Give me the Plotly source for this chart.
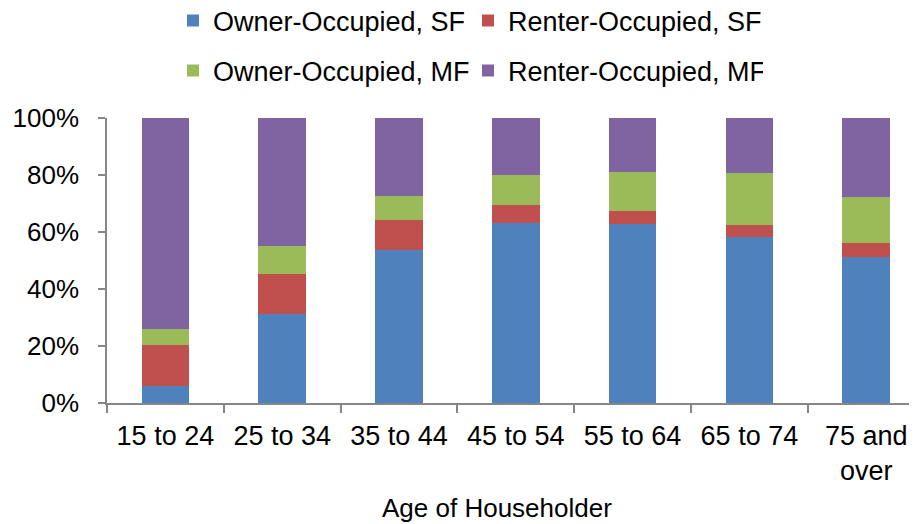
import plotly.graph_objects as go

categories = ["15 to 24", "25 to 34", "35 to 44", "45 to 54", "55 to 64", "65 to 74", "75 and<br>over"]
owner_sf = [6.0, 31.3, 53.8, 63.2, 62.7, 58.2, 51.1]
renter_sf = [14.4, 13.9, 10.3, 6.3, 4.5, 4.1, 4.9]
owner_mf = [5.5, 10.0, 8.6, 10.4, 14.0, 18.4, 16.3]
renter_mf = [74.1, 44.8, 27.3, 20.1, 18.8, 19.3, 27.7]

series = [
    ("Owner-Occupied, SF", owner_sf, "#4F81BD", "legend"),
    ("Renter-Occupied, SF", renter_sf, "#C0504D", "legend"),
    ("Owner-Occupied, MF", owner_mf, "#9BBB59", "legend2"),
    ("Renter-Occupied, MF", renter_mf, "#8064A2", "legend2"),
]

FONT = "Liberation Sans, Arial, sans-serif"

fig = go.Figure()
for name, vals, color, lg in series:
    fig.add_trace(go.Bar(
        x=categories, y=[v / 100 for v in vals], name=name,
        marker=dict(color=color, line=dict(width=0)),
        legend=lg,
    ))

# page has an 8px body margin; figure sized to fill the rest of the window
OFF = 8
W, H = 917 - OFF, 524 - OFF
L, R, T, B = 107 - OFF, 0, 118 - OFF, 121
PW, PH = W - L - R, H - T - B

legend_common = dict(
    orientation="h", xref="container", yref="container",
    xanchor="left", yanchor="middle",
    font=dict(family=FONT, size=27, color="#000"),
    entrywidth=250, bgcolor="rgba(0,0,0,0)", borderwidth=0,
    traceorder="normal",
)

fig.update_layout(
    width=W, height=H,
    barmode="stack", bargap=0.592,
    plot_bgcolor="white", paper_bgcolor="white",
    margin=dict(l=L, r=R, t=T, b=B, pad=0),
    font=dict(family=FONT, color="#000"),
    showlegend=True,
    legend=dict(x=(173 - OFF) / W, y=1 - (21 - OFF) / H, **legend_common),
    legend2=dict(x=(173 - OFF) / W, y=1 - (71 - OFF) / H, **legend_common),
    xaxis=dict(
        range=[-0.5, 6.435], showline=True, linecolor="#868686", linewidth=1.5,
        ticks="outside", tickson="boundaries", ticklen=8, tickcolor="#868686",
        tickwidth=1.5, showgrid=False, zeroline=False, ticklabelstandoff=8,
        tickfont=dict(family=FONT, size=27, color="#000"),
    ),
    yaxis=dict(
        range=[0, 1], tickformat=".0%", dtick=0.2, tick0=0,
        showline=True, linecolor="#868686", linewidth=1.5,
        ticks="outside", ticklen=7, tickcolor="#868686", tickwidth=1.5,
        showgrid=False, zeroline=False, ticklabelstandoff=14,
        tickfont=dict(family=FONT, size=26, color="#000"),
    ),
    annotations=[dict(
        text="Age of Householder", xref="paper", yref="paper",
        x=(497 - OFF - L) / PW, y=(H - B - (508 - OFF)) / PH,
        xanchor="center", yanchor="middle",
        showarrow=False, font=dict(family=FONT, size=26, color="#000"),
    )],
)

fig.write_html("out.html")
